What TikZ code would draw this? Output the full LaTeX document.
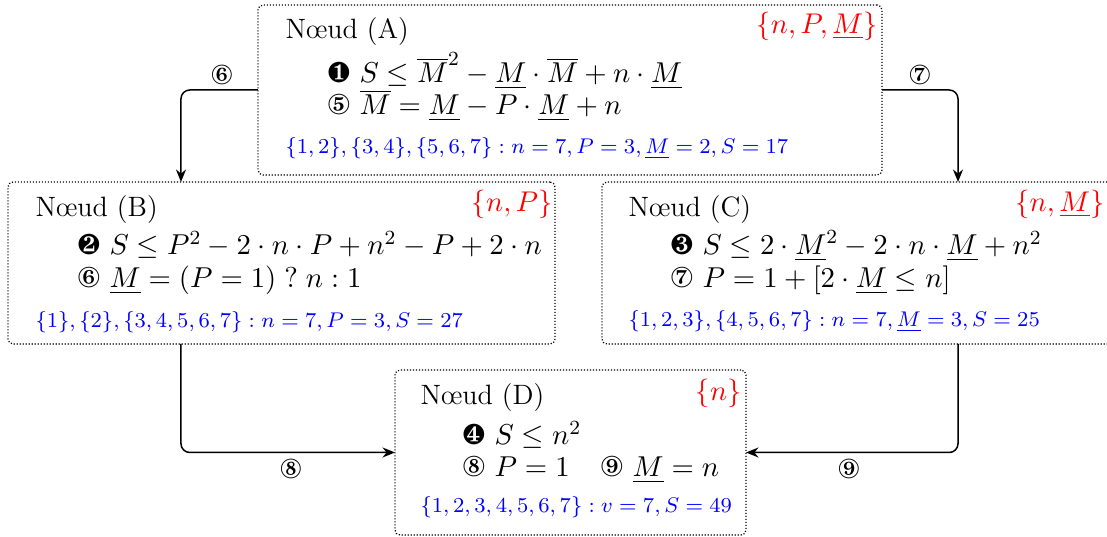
\RequirePackage{fix-cm}
\documentclass[tikz,border=0pt]{standalone}
\usepackage{amsmath}
\usepackage{pifont}
\usetikzlibrary{calc,arrows.meta}
\tikzset{
  box/.style={draw, line width=0.5pt, dash pattern=on 0.45pt off 0.75pt, rounded corners=2pt, inner sep=0pt, outer sep=0pt},
  conn/.style={draw, line width=0.6pt, rounded corners=3.5pt, -{Stealth[length=5pt,width=4pt]}},
  ttl/.style={anchor=base west, inner sep=0pt, font=\fontsize{11.2}{13}\selectfont},
  frm/.style={anchor=base west, inner sep=0pt, font=\fontsize{11.5}{14}\selectfont},
  info/.style={anchor=base west, inner sep=0pt, text=blue, font=\fontsize{8.5}{11}\selectfont},
  vars/.style={anchor=base east, inner sep=0pt, text=red, font=\fontsize{11.4}{13}\selectfont},
  lbl/.style={inner sep=0pt, font=\fontsize{11}{13}\selectfont},
}
\begin{document}
\begin{tikzpicture}[x=0.4pt,y=-0.4pt]
\useasboundingbox (0,0) rectangle (1107,537);
\clip (0,0) rectangle (1107,537);
% boxes
\node[box, minimum width=249.6pt, minimum height=68pt] (A) at (570,90) {};
\node[box, minimum width=218.8pt, minimum height=64.8pt] (B) at (281.5,263) {};
\node[box, minimum width=204pt, minimum height=64.8pt] (C) at (857,263) {};
\node[box, minimum width=140.4pt, minimum height=66pt] (D) at (570.5,452.5) {};
% node A
\node[ttl] (tA) at (285,39) {Nœud (A)};
\node[vars] (vA) at (878,34) {$\{n, P, \underline{M}\}$};
\node[frm] (fA1) at (327,83) {\ding{182} $S \leq \overline{M}^2 - \underline{M}\cdot\overline{M} + n\cdot\underline{M}$};
\node[frm] (fA2) at (327,115) {\ding{176} $\overline{M} = \underline{M} - P\cdot\underline{M} + n$};
\node[info] (iA) at (285,154) {$\{1,2\},\{3,4\},\{5,6,7\} : n=7, P=3, \underline{M}=2, S=17$};
% node B
\node[ttl] (tB) at (35,217) {Nœud (B)};
\node[vars] (vB) at (553,212) {$\{n, P\}$};
\node[frm] (fB1) at (77,255) {\ding{183} $S \leq P^2 - 2\cdot n\cdot P + n^2 - P + 2\cdot n$};
\node[frm] (fB2) at (77,288) {\ding{177} $\underline{M} = (P=1) \mathrel{?} n : 1$};
\node[info] (iB) at (35,328) {$\{1\},\{2\},\{3,4,5,6,7\} : n=7, P=3, S=27$};
% node C
\node[ttl] (tC) at (628,217) {Nœud (C)};
\node[vars] (vC) at (1105,212) {$\{n, \underline{M}\}$};
\node[frm] (fC1) at (670,255) {\ding{184} $S \leq 2\cdot\underline{M}^2 - 2\cdot n\cdot\underline{M} + n^2$};
\node[frm] (fC2) at (670,288) {\ding{178} $P = 1 + [2\cdot\underline{M} \leq n]$};
\node[info] (iC) at (628,327) {$\{1,2,3\},\{4,5,6,7\} : n=7, \underline{M}=3, S=25$};
% node D
\node[ttl] (tD) at (420,405) {Nœud (D)};
\node[vars] (vD) at (742,401) {$\{n\}$};
\node[frm] (fD1) at (462,445) {\ding{185} $S \leq n^2$};
\node[frm] (fD2) at (462,477) {\ding{179} $P = 1$};
\node[frm] (fD3) at (600,477) {\ding{180} $\underline{M} = n$};
\node[info] (iD) at (420,513) {$\{1,2,3,4,5,6,7\} : v=7, S=49$};
% connector ends
\coordinate (Bin) at ($(B.north west)+(173,0)$);
\coordinate (Bout) at ($(B.south west)+(173,0)$);
\coordinate (Cin) at ($(C.north west)+(356,0)$);
\coordinate (Cout) at ($(C.south west)+(356,0)$);
\draw[conn] (A.west) -| (Bin);
\draw[conn] (A.east) -| (Cin);
\draw[conn] (Bout) |- (D.west);
\draw[conn] (Cout) |- (D.east);
% labels
\node[lbl] (l6) at (222,75) {\ding{177}};
\node[lbl] (l7) at (920,75) {\ding{178}};
\node[lbl] (l8) at (291,469) {\ding{179}};
\node[lbl] (l9) at (849,469) {\ding{180}};
\end{tikzpicture}
\end{document}
